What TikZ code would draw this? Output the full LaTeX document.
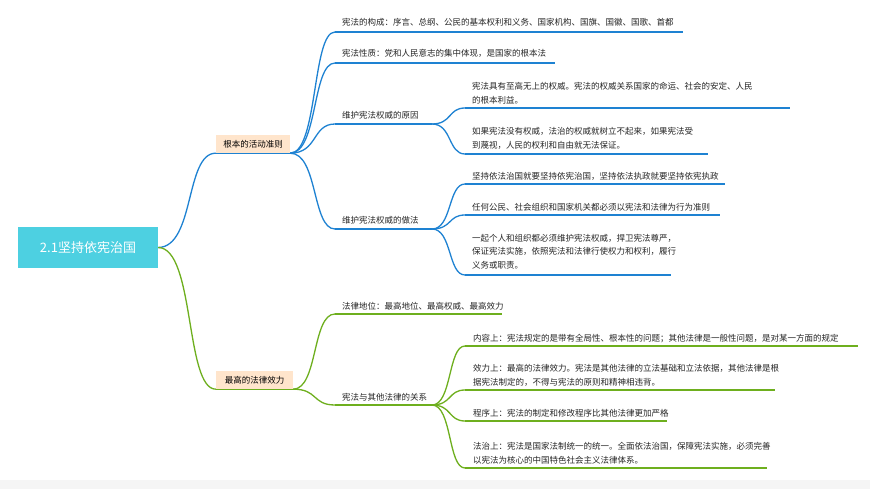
\documentclass[tikz,border=0pt]{standalone}
\usepackage{fontspec}
\setmainfont{Noto Sans CJK SC}
\usetikzlibrary{calc}
\definecolor{rootc}{RGB}{77,208,225}
\definecolor{bluec}{RGB}{30,130,210}
\definecolor{greenc}{RGB}{110,175,30}
\begin{document}
\begin{tikzpicture}[x=1pt,y=-1pt,
  txt/.style={anchor=base west,inner sep=0pt,font=\fontsize{8.5}{14}\selectfont,align=left,text=black!85},
  bl/.style={draw=bluec,line width=1.3pt},
  gr/.style={draw=greenc,line width=1.3pt}]
\fill[white] (0,0) rectangle (870,489);
\fill[black!4] (0,480) rectangle (870,489);
% root
\node[fill=rootc,draw=none,minimum width=140pt,minimum height=41pt,inner sep=0pt,text=white,font=\fontsize{13}{14}\selectfont] (root) at (88,247.5) {2.1坚持依宪治国};
% branches
\node[fill=orange!20,minimum width=74pt,minimum height=18pt,inner sep=0pt,font=\fontsize{8.5}{9}\selectfont] (b1) at (253,144) {根本的活动准则};
\node[fill=orange!20,minimum width=77pt,minimum height=18pt,inner sep=0pt,font=\fontsize{8.5}{9}\selectfont] (b2) at (254.5,380) {最高的法律效力};
\draw[bl] (b1.south west) -- (b1.south east);
\draw[gr] (b2.south west) -- (b2.south east);
\draw[bl] (root.east) .. controls (195,247) and (185,153) .. (b1.south west);
\draw[gr] (root.east) .. controls (195,248) and (185,389) .. (b2.south west);
% blue level 2
\node[txt] (t1) at (342,26) {宪法的构成：序言、总纲、公民的基本权利和义务、国家机构、国旗、国徽、国歌、首都};
\node[txt] (t2) at (342,57) {宪法性质：党和人民意志的集中体现，是国家的根本法};
\node[txt] (t3) at (342,119) {维护宪法权威的原因};
\node[txt] (t4) at (342,224) {维护宪法权威的做法};
\coordinate (s1) at (335,32); \coordinate (e1) at (683,32);
\coordinate (s2) at (335,63); \coordinate (e2) at (555,63);
\coordinate (s3) at (335,124); \coordinate (e3) at (432,124);
\coordinate (s4) at (335,229); \coordinate (e4) at (432,229);
\foreach \i in {1,...,4}{\draw[bl] (s\i) -- (e\i);}
\foreach \i in {1,...,4}{\draw[bl] (b1.south east) .. controls (318,153) and (312,0|-s\i) .. (s\i);}
% blue level 3
\node[txt] (u1) at (472,104) {宪法具有至高无上的权威。宪法的权威关系国家的命运、社会的安定、人民\\的根本利益。};
\node[txt] (u2) at (472,149) {如果宪法没有权威，法治的权威就树立不起来，如果宪法受\\到蔑视，人民的权利和自由就无法保证。};
\node[txt] (u3) at (472,180) {坚持依法治国就要坚持依宪治国，坚持依法执政就要坚持依宪执政};
\node[txt] (u4) at (472,211) {任何公民、社会组织和国家机关都必须以宪法和法律为行为准则};
\node[txt] (u5) at (472,269) {一起个人和组织都必须维护宪法权威，捍卫宪法尊严，\\保证宪法实施，依照宪法和法律行使权力和权利，履行\\义务或职责。};
\coordinate (p1) at (465,108); \coordinate (q1) at (790,108);
\coordinate (p2) at (465,154); \coordinate (q2) at (708,154);
\coordinate (p3) at (465,184); \coordinate (q3) at (725,184);
\coordinate (p4) at (465,215); \coordinate (q4) at (720,215);
\coordinate (p5) at (465,275); \coordinate (q5) at (671,275);
\foreach \i in {1,...,5}{\draw[bl] (p\i) -- (q\i);}
\foreach \i in {1,2}{\draw[bl] (e3) .. controls (452,124) and (448,0|-p\i) .. (p\i);}
\foreach \i in {3,4,5}{\draw[bl] (e4) .. controls (452,229) and (448,0|-p\i) .. (p\i);}
% green level 2
\node[txt] (g1) at (342,309) {法律地位：最高地位、最高权威、最高效力};
\node[txt] (g2) at (342,400) {宪法与其他法律的关系};
\coordinate (gs1) at (335,314); \coordinate (ge1) at (502,314);
\coordinate (gs2) at (335,405); \coordinate (ge2) at (432,405);
\foreach \i in {1,2}{\draw[gr] (gs\i) -- (ge\i); \draw[gr] (b2.south east) .. controls (318,389) and (312,0|-gs\i) .. (gs\i);}
% green level 3
\node[txt] (h1) at (473,341) {内容上：宪法规定的是带有全局性、根本性的问题；其他法律是一般性问题，是对某一方面的规定};
\node[txt] (h2) at (473,385) {效力上：最高的法律效力。宪法是其他法律的立法基础和立法依据，其他法律是根\\据宪法制定的，不得与宪法的原则和精神相违背。};
\node[txt] (h3) at (473,416) {程序上：宪法的制定和修改程序比其他法律更加严格};
\node[txt] (h4) at (473,463) {法治上：宪法是国家法制统一的统一。全面依法治国，保障宪法实施，必须完善\\以宪法为核心的中国特色社会主义法律体系。};
\coordinate (r1) at (465,346); \coordinate (w1) at (858,346);
\coordinate (r2) at (465,390); \coordinate (w2) at (775,390);
\coordinate (r3) at (465,421); \coordinate (w3) at (667,421);
\coordinate (r4) at (465,468); \coordinate (w4) at (767,468);
\foreach \i in {1,...,4}{\draw[gr] (r\i) -- (w\i); \draw[gr] (ge2) .. controls (452,405) and (448,0|-r\i) .. (r\i);}
\end{tikzpicture}
\end{document}
